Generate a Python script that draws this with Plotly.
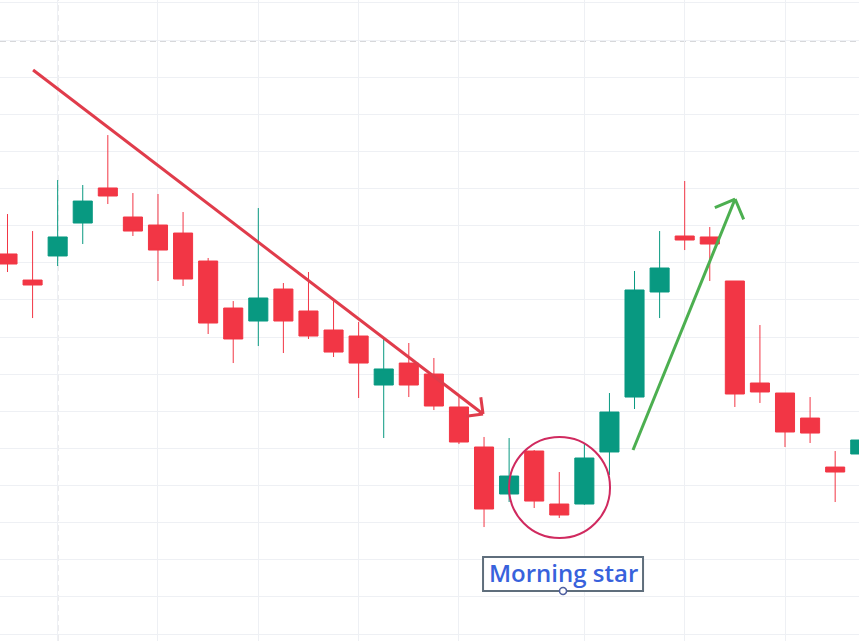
import math
import plotly.graph_objects as go

# ---- data ----
idx = list(range(35))
open_ = [151.19, 147.68, 150.92, 155.36, 160.08, 156.17, 155.09, 154.01, 150.24, 143.91,
         142.16, 146.47, 143.51, 140.95, 140.14, 133.54, 136.50, 135.02, 130.58, 125.19,
         118.86, 124.65, 117.51, 117.51, 124.52, 131.92, 146.07, 153.61, 153.48, 147.55,
         133.81, 132.46, 129.09, 122.49, 124.25]
high = [156.57, 154.28, 161.15, 160.48, 167.21, 159.40, 159.27, 156.84, 150.65, 144.85,
        157.38, 147.28, 148.76, 144.85, 142.03, 139.74, 139.20, 137.18, 132.06, 126.54,
        126.40, 124.78, 121.82, 125.73, 132.46, 148.90, 154.28, 161.02, 154.82, 147.55,
        141.62, 132.46, 131.92, 124.65, 126.67]
low = [148.76, 142.56, 149.57, 152.53, 157.92, 153.61, 147.55, 146.88, 140.41, 136.50,
       138.79, 137.85, 139.74, 137.31, 131.79, 126.40, 131.92, 130.17, 125.59, 114.41,
       117.78, 116.97, 115.63, 117.40, 121.42, 130.31, 142.56, 151.72, 147.55, 130.58,
       131.12, 125.19, 125.73, 117.78, 123.71]
close = [149.84, 147.01, 153.48, 158.32, 159.00, 154.28, 151.72, 147.82, 141.89, 139.74,
         145.26, 142.16, 140.14, 137.98, 136.50, 135.70, 133.54, 130.71, 125.86, 116.84,
         121.28, 117.91, 116.03, 123.71, 129.90, 146.34, 149.30, 153.07, 152.53, 132.33,
         132.60, 127.21, 127.07, 121.82, 126.13]

# vertical grid positions (bar index) and crosshair
x_grid = [2, 6, 10, 14, 18, 23, 27, 31]
cross_x, cross_y = 2, 179.9

# drawings (bar index, price)
down_trend = [(1.02, 175.97), (18.96, 129.63)]
up_trend = [(24.94, 124.78), (29.01, 158.59)]
star_center = (22.01, 119.73)
label_pos = (22.15, 108.08)
label_text = "Morning star"

X_RANGE = [-0.299, 33.95]
Y_RANGE = [99.06, 185.40]
W, H = 859, 641
PX_X = W / (X_RANGE[1] - X_RANGE[0])
PX_Y = H / (Y_RANGE[1] - Y_RANGE[0])

UP = "#089981"
DOWN = "#f23645"

fig = go.Figure()
fig.add_trace(go.Candlestick(
    x=idx, open=open_, high=high, low=low, close=close,
    increasing=dict(line=dict(color=UP, width=1), fillcolor=UP),
    decreasing=dict(line=dict(color=DOWN, width=1), fillcolor=DOWN),
    whiskerwidth=0, hoverinfo="skip", showlegend=False,
))

shapes = []
# crosshair
shapes.append(dict(type="line", xref="x", yref="paper", x0=cross_x, x1=cross_x, y0=0, y1=1,
                   line=dict(color="#858891", width=1, dash="6px,4px"), layer="between"))
shapes.append(dict(type="line", xref="paper", yref="y", x0=0, x1=1, y0=cross_y, y1=cross_y,
                   line=dict(color="#858891", width=1, dash="6px,4px"), layer="between"))


def arrow(pts, color, head_len, width):
    (x0, y0), (x1, y1) = pts
    shapes.append(dict(type="line", x0=x0, y0=y0, x1=x1, y1=y1,
                       line=dict(color=color, width=width)))
    dx = (x0 - x1) * PX_X
    dy = (y0 - y1) * PX_Y
    ang = math.atan2(dy, dx)
    path = ""
    for s in (1, -1):
        a = ang + s * math.radians(45)
        wx = x1 + head_len * math.cos(a) / PX_X
        wy = y1 + head_len * math.sin(a) / PX_Y
        path += f"M{wx},{wy} L{x1},{y1} "
    shapes.append(dict(type="path", path=path, line=dict(color=color, width=width)))


arrow(down_trend, "#e03c4b", 17, 3)
arrow(up_trend, "#4caf50", 22, 3)

# circle around the morning star
r = 50.5
shapes.append(dict(type="circle",
                   x0=star_center[0] - r / PX_X, x1=star_center[0] + r / PX_X,
                   y0=star_center[1] - r / PX_Y, y1=star_center[1] + r / PX_Y,
                   line=dict(color="#d02a5f", width=2)))

# label box
bw, bh = 80, 17
shapes.append(dict(type="rect",
                   x0=label_pos[0] - bw / PX_X, x1=label_pos[0] + bw / PX_X,
                   y0=label_pos[1] - bh / PX_Y, y1=label_pos[1] + bh / PX_Y,
                   line=dict(color="#5f6e7c", width=2), fillcolor="white", layer="above"))
# small handle under the label
hr = 3.5
hy = label_pos[1] - bh / PX_Y
shapes.append(dict(type="circle",
                   x0=label_pos[0] - hr / PX_X, x1=label_pos[0] + hr / PX_X,
                   y0=hy - hr / PX_Y, y1=hy + hr / PX_Y,
                   line=dict(color="#4f5fa0", width=1.5), fillcolor="white", layer="above"))

fig.add_annotation(x=label_pos[0], y=label_pos[1] + 1.5 / PX_Y, text=label_text, showarrow=False,
                   font=dict(family="Open Sans", size=24, color="#3862dc", weight=600),
                   borderwidth=0, borderpad=0)

fig.update_layout(
    width=W, height=H, margin=dict(l=0, r=0, t=0, b=0),
    paper_bgcolor="white", plot_bgcolor="white",
    shapes=shapes, boxgap=0.24, boxgroupgap=0,
    xaxis=dict(range=X_RANGE, tickvals=x_grid, showticklabels=False, ticks="",
               showgrid=True, gridcolor="#eef0f4", gridwidth=1, zeroline=False,
               showline=False, rangeslider=dict(visible=False), fixedrange=True),
    yaxis=dict(range=Y_RANGE, tick0=100, dtick=5, showticklabels=False, ticks="",
               showgrid=True, gridcolor="#eef0f4", gridwidth=1, zeroline=False,
               showline=False, fixedrange=True),
    hovermode=False,
)

fig.write_html("out.html", config={"displayModeBar": False, "staticPlot": True},
               post_script="document.body.style.margin='0';document.body.style.overflow='hidden';")
